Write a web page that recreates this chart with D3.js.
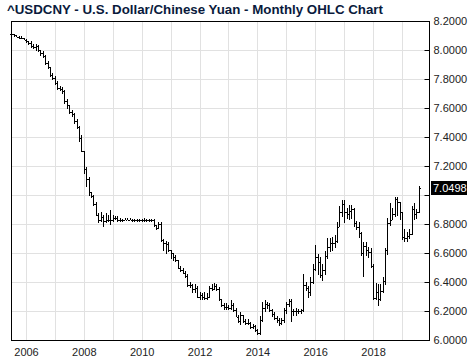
<!DOCTYPE html>
<html>
<head>
<meta charset="utf-8">
<script src="https://cdn.jsdelivr.net/npm/d3@7"></script>
<style>
  body { margin: 0; background: #fff; }
  svg { display: block; font-family: Arial, "Liberation Sans", sans-serif; }
</style>
</head>
<body>
<div id="chart"></div>
<script>
const title = "^USDCNY - U.S. Dollar/Chinese Yuan - Monthly OHLC Chart";
const firstMonth = [2005, 6]; // Jul 2005 (month index 0-based)
const lastValue = 7.0498;
const yTicks = [6.0, 6.2, 6.4, 6.6, 6.8, 7.0, 7.2, 7.4, 7.6, 7.8, 8.0, 8.2];
const gridYears = d3.range(2006, 2020);
const labelYears = [2006, 2008, 2010, 2012, 2014, 2016, 2018];

// monthly [open, high, low, close]
const ohlc = [
  // 2005 Jul-Dec
  [8.11,8.12,8.10,8.11],[8.11,8.11,8.09,8.10],[8.10,8.10,8.09,8.09],[8.09,8.09,8.08,8.08],[8.08,8.09,8.08,8.08],[8.08,8.08,8.07,8.07],
  // 2006
  [8.07,8.07,8.05,8.06],[8.06,8.06,8.04,8.05],[8.05,8.06,8.02,8.03],[8.03,8.04,8.01,8.02],[8.02,8.04,8.00,8.03],[8.03,8.03,7.99,8.00],
  [8.00,8.00,7.96,7.98],[7.98,7.99,7.95,7.96],[7.96,7.96,7.90,7.91],[7.91,7.92,7.87,7.88],[7.88,7.88,7.82,7.83],[7.83,7.84,7.80,7.81],
  // 2007
  [7.81,7.82,7.76,7.77],[7.77,7.78,7.73,7.74],[7.74,7.75,7.72,7.73],[7.73,7.74,7.70,7.72],[7.72,7.72,7.63,7.65],[7.65,7.66,7.60,7.62],
  [7.62,7.62,7.56,7.57],[7.57,7.58,7.54,7.56],[7.56,7.56,7.49,7.51],[7.51,7.52,7.46,7.47],[7.47,7.47,7.37,7.39],[7.39,7.41,7.30,7.30],
  // 2008
  [7.30,7.30,7.15,7.18],[7.18,7.19,7.06,7.11],[7.11,7.12,7.00,7.02],[7.02,7.02,6.98,6.99],[6.99,7.00,6.93,6.94],[6.94,6.95,6.86,6.86],
  [6.86,6.87,6.81,6.83],[6.83,6.88,6.82,6.85],[6.85,6.86,6.78,6.82],[6.82,6.87,6.81,6.83],[6.83,6.86,6.82,6.83],[6.83,6.89,6.80,6.83],
  // 2009
  [6.83,6.86,6.82,6.84],[6.84,6.85,6.83,6.84],[6.84,6.85,6.82,6.83],[6.83,6.84,6.82,6.83],[6.83,6.83,6.82,6.83],[6.83,6.84,6.83,6.83],
  [6.83,6.84,6.83,6.83],[6.83,6.84,6.83,6.83],[6.83,6.83,6.82,6.83],[6.83,6.83,6.82,6.83],[6.83,6.83,6.82,6.83],[6.83,6.83,6.82,6.83],
  // 2010
  [6.83,6.83,6.82,6.83],[6.83,6.84,6.82,6.83],[6.83,6.83,6.82,6.83],[6.83,6.83,6.82,6.83],[6.83,6.83,6.82,6.83],[6.83,6.83,6.78,6.79],
  [6.79,6.79,6.76,6.77],[6.77,6.81,6.77,6.80],[6.80,6.81,6.68,6.69],[6.69,6.69,6.62,6.67],[6.67,6.68,6.60,6.66],[6.66,6.67,6.61,6.62],
  // 2011
  [6.62,6.62,6.56,6.60],[6.60,6.60,6.55,6.57],[6.57,6.58,6.54,6.55],[6.55,6.55,6.49,6.50],[6.50,6.51,6.47,6.48],[6.48,6.49,6.46,6.46],
  [6.46,6.47,6.43,6.44],[6.44,6.45,6.37,6.38],[6.38,6.40,6.36,6.38],[6.38,6.38,6.33,6.35],[6.35,6.38,6.33,6.36],[6.36,6.37,6.29,6.30],
  // 2012
  [6.30,6.33,6.28,6.31],[6.31,6.32,6.28,6.30],[6.30,6.33,6.28,6.29],[6.29,6.32,6.28,6.30],[6.30,6.37,6.29,6.36],[6.36,6.38,6.34,6.35],
  [6.35,6.39,6.35,6.37],[6.37,6.38,6.34,6.35],[6.35,6.36,6.27,6.28],[6.28,6.28,6.23,6.24],[6.24,6.25,6.21,6.23],[6.23,6.25,6.21,6.23],
  // 2013
  [6.23,6.24,6.21,6.22],[6.22,6.27,6.21,6.24],[6.24,6.25,6.20,6.21],[6.21,6.22,6.16,6.16],[6.16,6.17,6.12,6.13],[6.13,6.19,6.11,6.17],
  [6.17,6.17,6.12,6.13],[6.13,6.14,6.11,6.12],[6.12,6.14,6.11,6.12],[6.12,6.12,6.08,6.09],[6.09,6.11,6.08,6.10],[6.10,6.10,6.06,6.07],
  // 2014
  [6.07,6.07,6.04,6.05],[6.05,6.16,6.04,6.14],[6.14,6.26,6.13,6.22],[6.22,6.27,6.20,6.25],[6.25,6.26,6.22,6.24],[6.24,6.25,6.20,6.21],
  [6.21,6.21,6.16,6.18],[6.18,6.19,6.14,6.15],[6.15,6.16,6.12,6.14],[6.14,6.15,6.10,6.12],[6.12,6.15,6.11,6.14],[6.14,6.22,6.12,6.21],
  // 2015
  [6.21,6.26,6.18,6.25],[6.25,6.28,6.23,6.27],[6.27,6.28,6.13,6.20],[6.20,6.21,6.17,6.20],[6.20,6.22,6.17,6.20],[6.20,6.21,6.18,6.20],
  [6.20,6.21,6.18,6.21],[6.21,6.45,6.20,6.38],[6.38,6.40,6.34,6.36],[6.36,6.37,6.29,6.33],[6.33,6.43,6.31,6.40],[6.40,6.52,6.39,6.49],
  // 2016
  [6.49,6.65,6.48,6.57],[6.57,6.59,6.45,6.54],[6.54,6.57,6.43,6.45],[6.45,6.52,6.41,6.48],[6.48,6.61,6.45,6.58],[6.58,6.70,6.56,6.64],
  [6.64,6.70,6.61,6.67],[6.67,6.71,6.62,6.67],[6.67,6.72,6.64,6.68],[6.68,6.81,6.67,6.78],[6.78,6.92,6.78,6.88],[6.88,6.96,6.85,6.94],
  // 2017
  [6.94,6.96,6.81,6.88],[6.88,6.91,6.84,6.87],[6.87,6.93,6.83,6.89],[6.89,6.93,6.84,6.90],[6.90,6.91,6.78,6.81],[6.81,6.82,6.76,6.78],
  [6.78,6.81,6.71,6.74],[6.74,6.74,6.58,6.60],[6.60,6.67,6.44,6.65],[6.65,6.67,6.58,6.62],[6.62,6.64,6.57,6.61],[6.61,6.63,6.50,6.51],
  // 2018
  [6.51,6.52,6.28,6.29],[6.29,6.39,6.28,6.33],[6.33,6.38,6.24,6.28],[6.28,6.38,6.27,6.34],[6.34,6.43,6.33,6.41],[6.41,6.63,6.38,6.62],
  [6.62,6.84,6.59,6.81],[6.81,6.94,6.79,6.83],[6.83,6.91,6.83,6.87],[6.87,6.98,6.85,6.97],[6.97,6.98,6.86,6.95],[6.95,6.95,6.83,6.88],
  // 2019 Jan-Aug
  [6.88,6.88,6.69,6.71],[6.71,6.76,6.68,6.70],[6.70,6.74,6.68,6.72],[6.72,6.76,6.70,6.73],[6.73,6.92,6.73,6.90],[6.90,6.94,6.83,6.87],
  [6.87,6.90,6.84,6.88],[6.88,7.06,6.88,7.0498]
];

const data = ohlc.map((d, i) => ({
  date: new Date(firstMonth[0], firstMonth[1] + i, 1),
  open: d[0], high: d[1], low: d[2], close: d[3]
}));

const W = 474, H = 361;
const plot = { left: 11, right: 429, top: 21, bottom: 340 };

const svg = d3.select("#chart").append("svg")
  .attr("width", W)
  .attr("height", H);

const x = d3.scaleTime()
  .domain([new Date(2006, 0, 1), new Date(2019, 0, 1)])
  .range([26, 402]);
const y = d3.scaleLinear()
  .domain([6.0, 8.2])
  .range([plot.bottom, plot.top]);

const px = v => Math.round(v) + 0.5;

// grid
svg.append("g").selectAll("line")
  .data(gridYears)
  .join("line")
  .attr("x1", d => px(x(new Date(d, 0, 1))))
  .attr("x2", d => px(x(new Date(d, 0, 1))))
  .attr("y1", plot.top)
  .attr("y2", plot.bottom)
  .attr("stroke", "#e1e1e1")
  .attr("stroke-width", 1);

svg.append("g").selectAll("line")
  .data(yTicks.filter(d => d > 6.0 && d < 8.2))
  .join("line")
  .attr("x1", plot.left)
  .attr("x2", plot.right)
  .attr("y1", d => px(y(d)))
  .attr("y2", d => px(y(d)))
  .attr("stroke", "#e1e1e1")
  .attr("stroke-width", 1);

// ohlc bars
const bars = svg.append("g")
  .attr("stroke", "#000")
  .attr("stroke-width", 1)
  .attr("shape-rendering", "crispEdges");

bars.selectAll(".hl")
  .data(data)
  .join("line")
  .attr("class", "hl")
  .attr("x1", d => px(x(d.date)))
  .attr("x2", d => px(x(d.date)))
  .attr("y1", d => y(d.high) - 0.5)
  .attr("y2", d => y(d.low) + 0.5);

bars.selectAll(".op")
  .data(data)
  .join("line")
  .attr("class", "op")
  .attr("x1", d => Math.round(x(d.date)) - 1)
  .attr("x2", d => Math.round(x(d.date)))
  .attr("y1", d => px(y(d.open)))
  .attr("y2", d => px(y(d.open)));

bars.selectAll(".cl")
  .data(data)
  .join("line")
  .attr("class", "cl")
  .attr("x1", d => Math.round(x(d.date)) + 1)
  .attr("x2", d => Math.round(x(d.date)) + 2)
  .attr("y1", d => px(y(d.close)))
  .attr("y2", d => px(y(d.close)));

// frame
svg.append("rect")
  .attr("x", plot.left + 0.5)
  .attr("y", plot.top + 0.5)
  .attr("width", plot.right - plot.left)
  .attr("height", plot.bottom - plot.top)
  .attr("fill", "none")
  .attr("stroke", "#000")
  .attr("stroke-width", 1);

// right axis
const lastY = y(lastValue);
const yAxis = d3.axisRight(y)
  .tickValues(yTicks)
  .tickSize(-5)
  .tickPadding(4)
  .tickFormat(d3.format(".4f"));

const yg = svg.append("g")
  .attr("transform", "translate(" + (plot.right + 0.5) + ",0)")
  .call(yAxis);
yg.select(".domain").remove();
yg.selectAll("line").attr("stroke", "#000");
yg.selectAll("text")
  .attr("fill", "#222")
  .style("font-size", "11px")
  // labels hidden under the last-value box
  .style("display", d => Math.abs(y(d) - lastY) < 12 ? "none" : null);

// bottom axis labels
const xAxis = d3.axisBottom(x)
  .tickValues(labelYears.map(d => new Date(d, 0, 1)))
  .tickSize(0)
  .tickPadding(8)
  .tickFormat(d3.timeFormat("%Y"));

const xg = svg.append("g")
  .attr("transform", "translate(0," + plot.bottom + ")")
  .call(xAxis);
xg.select(".domain").remove();
xg.selectAll("text")
  .attr("fill", "#222")
  .style("font-size", "11px");

// last value marker
svg.append("rect")
  .attr("x", plot.right + 2)
  .attr("y", Math.round(lastY) - 7)
  .attr("width", 36)
  .attr("height", 14)
  .attr("fill", "#000");
svg.append("text")
  .attr("x", plot.right + 4)
  .attr("y", lastY)
  .attr("dy", "0.35em")
  .attr("fill", "#fff")
  .style("font-size", "11px")
  .text(d3.format(".4f")(lastValue));

// title
svg.append("text")
  .attr("x", 7)
  .attr("y", 14)
  .attr("fill", "#0a1a3c")
  .style("font-size", "13.3px")
  .style("font-weight", "bold")
  .text(title);
</script>
</body>
</html>
